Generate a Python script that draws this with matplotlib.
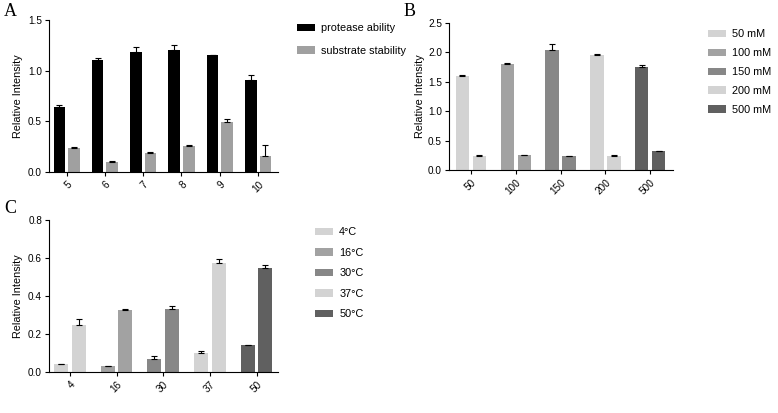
import matplotlib
matplotlib.use("Agg")
import matplotlib.pyplot as plt
import numpy as np

plt.rcParams['font.family'] = ['Liberation Sans', 'DejaVu Sans']

# panel A: pH
ph_labels = ['5', '6', '7', '8', '9', '10']
protease = [0.64, 1.11, 1.18, 1.20, 1.15, 0.91]
protease_err = [0.02, 0.015, 0.05, 0.05, 0.005, 0.05]
substrate = [0.24, 0.10, 0.19, 0.26, 0.49, 0.16]
substrate_err = [0.01, 0.005, 0.005, 0.005, 0.03, 0.11]

# panel B: salt
salt_labels = ['50', '100', '150', '200', '500']
salt_legend = ['50 mM', '100 mM', '150 mM', '200 mM', '500 mM']
salt_a = [1.60, 1.81, 2.04, 1.96, 1.76]
salt_a_err = [0.01, 0.01, 0.10, 0.02, 0.02]
salt_b = [0.24, 0.25, 0.23, 0.24, 0.32]
salt_b_err = [0.01, 0.01, 0.0, 0.01, 0.01]

# panel C: temperature
temp_labels = ['4', '16', '30', '37', '50']
temp_legend = ['4°C', '16°C', '30°C', '37°C', '50°C']
temp_a = [0.04, 0.03, 0.07, 0.10, 0.14]
temp_a_err = [0.003, 0.002, 0.015, 0.01, 0.003]
temp_b = [0.245, 0.325, 0.33, 0.575, 0.545]
temp_b_err = [0.035, 0.005, 0.017, 0.018, 0.017]

greys = ['#d3d3d3', '#a2a2a2', '#878787', '#d3d3d3', '#606060']

W, H = 778, 413
fs = 7.8    # legend / axis label
tfs = 7.2   # tick labels
fig = plt.figure(figsize=(W / 100, H / 100), dpi=100)


def make_ax(l, r, t, b):
    return fig.add_axes([l / W, 1 - b / H, (r - l) / W, (b - t) / H])


def style(ax, labels, ylim, yticks, ylab_x):
    for s in ['top', 'right']:
        ax.spines[s].set_visible(False)
    ax.spines['left'].set_linewidth(0.8)
    ax.spines['bottom'].set_linewidth(0.8)
    ax.set_xticks(range(len(labels)))
    ax.set_xticklabels(labels, rotation=45, ha='right', rotation_mode='anchor', fontsize=tfs)
    ax.set_ylim(*ylim)
    ax.set_yticks(yticks)
    ax.yaxis.set_major_formatter(matplotlib.ticker.FormatStrFormatter('%.1f'))
    ax.tick_params(axis='y', labelsize=tfs, length=3, width=0.8, pad=2, direction='out')
    ax.tick_params(axis='x', length=3, width=0.8, pad=2.5, direction='out')
    ax.set_ylabel('Relative Intensity', fontsize=fs)
    ax.yaxis.set_label_coords(ylab_x, 0.5)


w = 0.3
off = 0.19
ek = dict(elinewidth=0.8, capsize=2, capthick=0.8, ecolor='black')

# A
axA = make_ax(49, 278, 20, 172)
x = np.arange(len(ph_labels))
axA.bar(x - off, protease, w, color='black', label='protease ability',
        yerr=[np.zeros(len(x)), protease_err], error_kw=ek)
axA.bar(x + off, substrate, w, color='#a0a0a0', label='substrate stability',
        yerr=[np.zeros(len(x)), substrate_err], error_kw=ek)
axA.set_xlim(-0.46, len(x) - 0.48)
style(axA, ph_labels, (0, 1.5), [0, 0.5, 1.0, 1.5], -0.114)
axA.legend(loc='upper left', bbox_to_anchor=(293 / W, 1 - 19 / H), bbox_transform=fig.transFigure,
           frameon=False, fontsize=fs, handlelength=1.65, handleheight=0.7,
           labelspacing=1.15, handletextpad=0.55, borderaxespad=0)

# B
axB = make_ax(449, 673, 23, 170)
x = np.arange(len(salt_labels))
hB = axB.bar(x - off, salt_a, w, color=greys,
             yerr=[np.zeros(len(x)), salt_a_err], error_kw=ek)
axB.bar(x + off, salt_b, w, color=greys,
        yerr=[np.zeros(len(x)), salt_b_err], error_kw=ek)
axB.set_xlim(-0.49, len(x) - 0.49)
style(axB, salt_labels, (0, 2.5), [0, 0.5, 1.0, 1.5, 2.0, 2.5], -0.107)
axB.legend(hB.patches, salt_legend, loc='upper left', bbox_to_anchor=(704 / W, 1 - 25 / H),
           bbox_transform=fig.transFigure, frameon=False, fontsize=fs,
           handlelength=1.65, handleheight=0.7, labelspacing=0.82, handletextpad=0.55, borderaxespad=0)

# C
axC = make_ax(49, 278, 220, 372)
x = np.arange(len(temp_labels))
hC = axC.bar(x - off, temp_a, w, color=greys,
             yerr=[np.zeros(len(x)), temp_a_err], error_kw=ek)
axC.bar(x + off, temp_b, w, color=greys,
        yerr=[np.zeros(len(x)), temp_b_err], error_kw=ek)
axC.set_xlim(-0.45, len(x) - 0.54)
style(axC, temp_labels, (0, 0.8), [0, 0.2, 0.4, 0.6, 0.8], -0.114)
axC.legend(hC.patches, temp_legend, loc='upper left', bbox_to_anchor=(311 / W, 1 - 223 / H),
           bbox_transform=fig.transFigure, frameon=False, fontsize=fs,
           handlelength=1.65, handleheight=0.7, labelspacing=0.97, handletextpad=0.55, borderaxespad=0)

for lab, px, py in [('A', 4, 16), ('B', 404, 16), ('C', 4, 213)]:
    fig.text(px / W, 1 - py / H, lab, fontsize=13, family='Liberation Serif', va='baseline')

fig.savefig('out.png', dpi=100)
